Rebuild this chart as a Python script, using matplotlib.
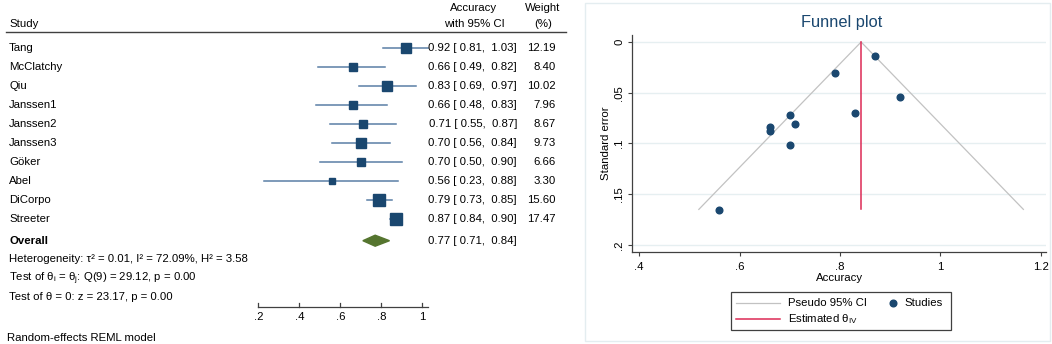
import numpy as np
import matplotlib
matplotlib.use("Agg")
import matplotlib.pyplot as plt
import matplotlib.transforms as mtransforms
from matplotlib.patches import Polygon, Rectangle
from matplotlib.lines import Line2D

plt.rcParams['font.family'] = ['Liberation Sans', 'DejaVu Sans']
plt.rcParams['mathtext.fontset'] = 'custom'
plt.rcParams['mathtext.rm'] = 'Liberation Sans'
plt.rcParams['mathtext.it'] = 'Liberation Sans:italic'
plt.rcParams['font.size'] = 8.2

# Study data (forest plot)
studies = ["Tang", "McClatchy", "Qiu", "Janssen1", "Janssen2", "Janssen3",
           "Göker", "Abel", "DiCorpo", "Streeter"]
accuracy = [0.92, 0.66, 0.83, 0.66, 0.71, 0.70, 0.70, 0.56, 0.79, 0.87]
ci_low = [0.81, 0.49, 0.69, 0.48, 0.55, 0.56, 0.50, 0.23, 0.73, 0.84]
ci_high = [1.03, 0.82, 0.97, 0.83, 0.87, 0.84, 0.90, 0.88, 0.85, 0.90]
weights = [12.19, 8.40, 10.02, 7.96, 8.67, 9.73, 6.66, 3.30, 15.60, 17.47]
overall = [0.77, 0.71, 0.84]  # estimate, low, high
forest_ticks = [0.2, 0.4, 0.6, 0.8, 1.0]
forest_tick_labels = [".2", ".4", ".6", ".8", "1"]
footer_lines = ["Heterogeneity: \u03c4\u00b2 = 0.01, I\u00b2 = 72.09%, H\u00b2 = 3.58",
                "Test of \u03b8$_\\mathrm{i}$ = \u03b8$_\\mathrm{j}$: Q(9) = 29.12, p = 0.00",
                "Test of \u03b8 = 0: z = 23.17, p = 0.00"]

# Funnel plot data (standard errors)
std_err = [0.054, 0.0835, 0.070, 0.088, 0.081, 0.072, 0.102, 0.166, 0.0306, 0.0135]
theta_iv = 0.842
funnel_x = [0.519, 0.842, 1.165]
funnel_se = [0.165, 0.0, 0.165]
funnel_yticks = [0, 0.05, 0.1, 0.15, 0.2]
funnel_ytick_labels = ["0", ".05", ".1", ".15", ".2"]
funnel_xticks = [0.4, 0.6, 0.8, 1.0, 1.2]
funnel_xtick_labels = [".4", ".6", ".8", "1", "1.2"]

navy = "#1a476f"
ci_blue = "#5a7ea6"
green = "#55752f"
red = "#dc2a55"
grey = "#c2c2c2"
W, H = 1052, 344

fig = plt.figure(figsize=(W / 100, H / 100), dpi=100)

# ---------------- forest plot ----------------
LW = 590
ax1 = fig.add_axes([0, 0, LW / W, 1])
ax1.set_xlim(-1.06, 1.818)
ax1.set_ylim(15.6, -2.55)
ax1.axis("off")
tx = mtransforms.blended_transform_factory(ax1.transAxes, ax1.transData)

def fx(px):
    return px / LW

# headers
ax1.text(fx(9), -1.3, "Study", transform=tx, va="center", ha="left")
ax1.text(fx(474), -2.15, "Accuracy", transform=tx, va="center", ha="center")
ax1.text(fx(474), -1.3, "with 95% CI", transform=tx, va="center", ha="center")
ax1.text(fx(543), -2.15, "Weight", transform=tx, va="center", ha="center")
ax1.text(fx(543), -1.3, "(%)", transform=tx, va="center", ha="center")
ax1.plot([fx(6), fx(566)], [-0.87, -0.87], transform=tx, color="#404040", lw=1.0)

for i, name in enumerate(studies):
    ax1.plot([ci_low[i], ci_high[i]], [i, i], color=ci_blue, lw=1.1, zorder=2)
    ax1.plot(accuracy[i], i, marker="s", ms=2.19 * np.sqrt(weights[i]),
             color=navy, mec=navy, zorder=3)
    ax1.text(fx(9), i, name, transform=tx, va="center", ha="left")
    ax1.text(fx(517), i, f"{accuracy[i]:.2f} [ {ci_low[i]:.2f},  {ci_high[i]:.2f}]",
             transform=tx, va="center", ha="right")
    ax1.text(fx(556), i, f"{weights[i]:.2f}", transform=tx, va="center", ha="right")

ov_row = 10.15
est, lo, hi = overall
ax1.add_patch(Polygon([[lo, ov_row], [est, ov_row - 0.29], [hi, ov_row], [est, ov_row + 0.29]],
                      closed=True, color=green, zorder=3))
ax1.text(fx(9), ov_row, "Overall", transform=tx, va="center", ha="left", fontweight="bold")
ax1.text(fx(517), ov_row, f"{est:.2f} [ {lo:.2f},  {hi:.2f}]",
         transform=tx, va="center", ha="right")

for k, line in enumerate(footer_lines):
    ax1.text(fx(9), 11.14 + 1.0 * k, line, transform=tx, va="center", ha="left")

axis_row = 13.64
ax1.plot([forest_ticks[0], max(ci_high)], [axis_row, axis_row], color="#404040", lw=0.9)
for t, lab in zip(forest_ticks, forest_tick_labels):
    ax1.plot([t, t], [axis_row, axis_row - 0.22], color="#404040", lw=0.9)
    ax1.text(t, 14.2, lab, ha="center", va="center")

ax1.text(fx(7), 15.3, "Random-effects REML model", transform=tx, va="center", ha="left")

# ---------------- funnel plot ----------------
fig.add_artist(Rectangle((585 / W, 3 / H), (1050 - 585) / W, (341 - 3) / H,
                         transform=fig.transFigure, fill=False,
                         edgecolor="#e4edf0", lw=1.0))

ax2 = fig.add_axes([632 / W, 92 / H, 414 / W, 217 / H])
ax2.set_xlim(0.386, 1.21)
ax2.set_ylim(0.207, -0.0069)
ax2.set_yticks(funnel_yticks)
ax2.set_yticklabels(funnel_ytick_labels, rotation=90, va="center")
ax2.set_xticks(funnel_xticks)
ax2.set_xticklabels(funnel_xtick_labels)
ax2.yaxis.grid(True, color="#e6eff1", lw=1.0)
ax2.set_axisbelow(True)
for s in ["top", "right"]:
    ax2.spines[s].set_visible(False)
for s in ["left", "bottom"]:
    ax2.spines[s].set_color("#404040")
    ax2.spines[s].set_linewidth(0.9)
ax2.tick_params(axis="both", colors="#404040", labelcolor="black", length=3, width=0.8)
ax2.tick_params(axis="y", pad=2.5)
ax2.tick_params(axis="x", pad=4)

ax2.plot(funnel_x, funnel_se, color=grey, lw=0.9, zorder=2)
ax2.plot([theta_iv, theta_iv], [0, funnel_se[0]], color=red, lw=1.1, zorder=2)
ax2.plot(accuracy, std_err, "o", color=navy, ms=4.8, zorder=3, clip_on=False)

fig.text(842 / W, 1 - 22 / H, "Funnel plot", ha="center", va="center",
         fontsize=11.8, color=navy)
fig.text(606 / W, 1 - 143.5 / H, "Standard error", rotation=90, ha="center", va="center")
fig.text(840 / W, 1 - 278 / H, "Accuracy", ha="center", va="center")

# legend box drawn in figure pixels (Stata-style layout)
def fp(px, py):
    return px / W, 1 - py / H

fig.add_artist(Rectangle(fp(730.5, 330), 220 / W, 37.7 / H, transform=fig.transFigure,
                         fill=False, edgecolor="#404040", lw=0.9))
for yy, col, lab in [(302.7, grey, "Pseudo 95% CI"),
                     (319.0, red, "Estimated \u03b8$_\\mathrm{IV}$")]:
    x0, y0 = fp(736, yy)
    x1, _ = fp(780, yy)
    fig.add_artist(Line2D([x0, x1], [y0, y0], transform=fig.transFigure, color=col,
                          lw=0.9 if col == grey else 1.1))
    fig.text(*fp(787.5, yy), lab, ha="left", va="center")
mx, my = fp(893.3, 302.7)
fig.add_artist(Line2D([mx], [my], transform=fig.transFigure, ls="none",
                      marker="o", color=navy, ms=4.8))
fig.text(*fp(904, 302.7), "Studies", ha="left", va="center")

fig.savefig("out.png", dpi=100)
